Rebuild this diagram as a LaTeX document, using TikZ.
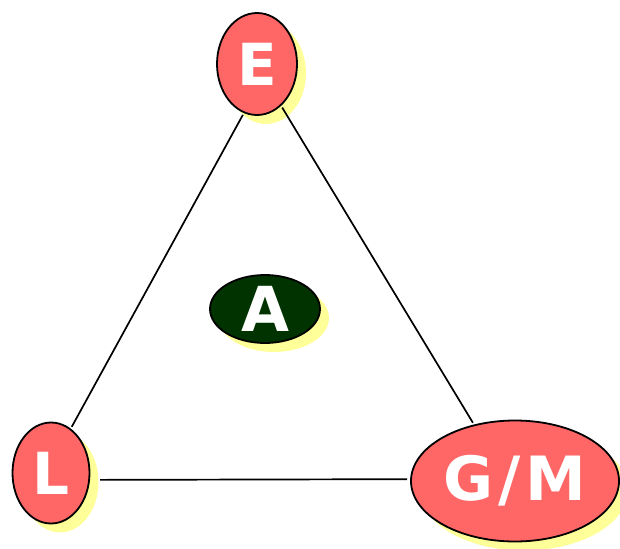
\documentclass[tikz,border=0pt]{standalone}
\usepackage{fontspec}
\setmainfont{DejaVu Sans}
\usetikzlibrary{shapes.geometric,shadows}
\definecolor{nodered}{HTML}{FF6666}
\definecolor{nodegreen}{HTML}{003300}
\definecolor{shadowyellow}{HTML}{FFFF99}
\begin{document}
\begin{tikzpicture}[x=1pt,y=-1pt,
  bubble/.style={ellipse, draw=black, line width=1.8pt, inner sep=0pt,
    text=white, font=\fontsize{58}{58}\selectfont\bfseries,
    drop shadow={shadow xshift=9pt, shadow yshift=-9pt, fill=shadowyellow, opacity=1}},
  redbubble/.style={bubble, fill=nodered},
  greenbubble/.style={bubble, fill=nodegreen, font=\fontsize{62}{62}\selectfont\bfseries,
    drop shadow={shadow xshift=7pt, shadow yshift=-7pt, fill=shadowyellow, opacity=1}},
  edge/.style={draw=black, line width=1.7pt}]
\useasboundingbox (0,0) rectangle (620,548);
% vertices of the triangle
\node[redbubble, minimum width=80pt, minimum height=102pt] (E) at (257,64) {E};
\node[redbubble, minimum width=77pt, minimum height=101pt] (L) at (51,473) {L};
\node[redbubble, minimum width=208pt, minimum height=121pt,
      font=\fontsize{61}{61}\selectfont\bfseries] (GM) at (515,481) {G\hspace{5pt}/\hspace{5pt}M};
% centre node
\node[greenbubble, minimum width=110pt, minimum height=68pt] (A) at (265,309) {A};
% sides of the triangle
\draw[edge, shorten <=2pt, shorten >=2pt] (E.255) -- (L.66);
\draw[edge, shorten <=2pt, shorten >=2pt] (E.300) -- (GM.126);
\draw[edge, shorten <=10pt, shorten >=3pt] (L.-10) -- (GM.179);
\end{tikzpicture}
\end{document}
